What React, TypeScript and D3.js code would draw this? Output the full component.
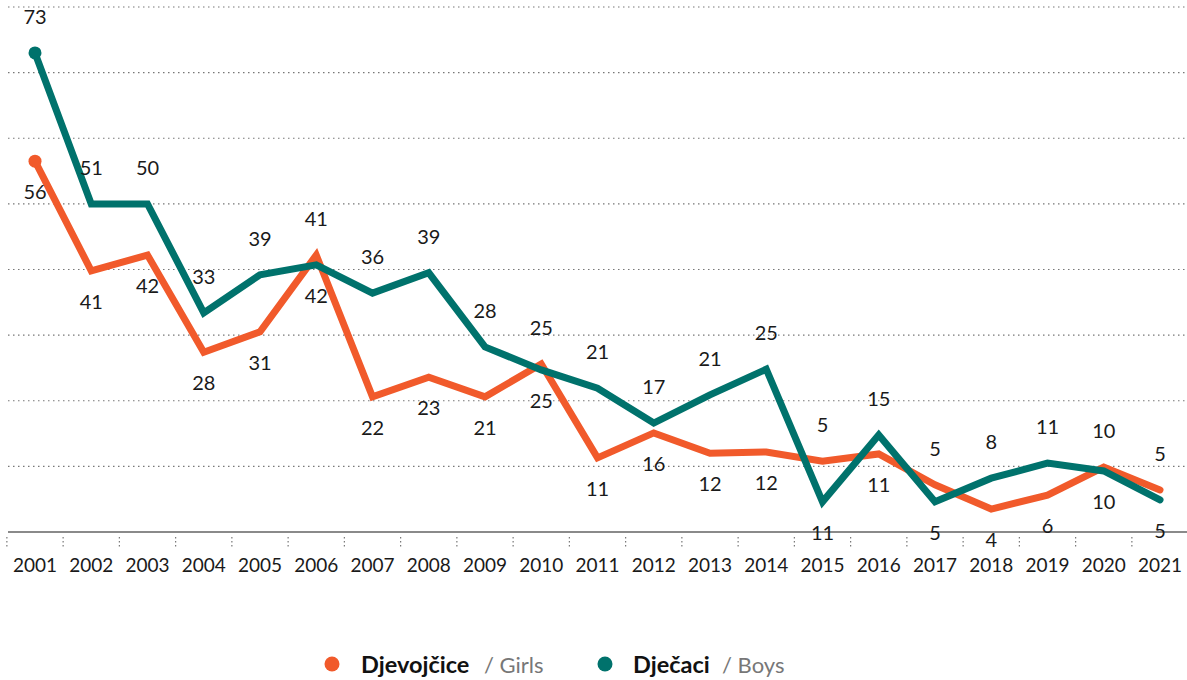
import * as d3 from "d3";
import { useEffect, useRef } from "react";

const years = ["2001","2002","2003","2004","2005","2006","2007","2008","2009","2010","2011","2012","2013","2014","2015","2016","2017","2018","2019","2020","2021"];

// plotted values
const boysValues = [73, 50, 50, 33.4, 39.2, 40.7, 36.4, 39.5, 28.2, 24.7, 21.9, 16.6, 20.9, 24.8, 4.6, 14.8, 4.6, 8.2, 10.5, 9.3, 4.9];
const girlsValues = [56.5, 39.8, 42.2, 27.4, 30.5, 42.2, 20.6, 23.6, 20.6, 25.6, 11.3, 15.1, 12.0, 12.2, 10.8, 11.9, 7.2, 3.5, 5.6, 9.9, 6.4];

// printed labels
const boysLabels = [73, 51, 50, 33, 39, 41, 36, 39, 28, 25, 21, 17, 21, 25, 5, 15, 5, 8, 11, 10, 5];
const girlsLabels = [56, 41, 42, 28, 31, 42, 22, 23, 21, 25, 11, 16, 12, 12, 11, 11, 5, 4, 6, 10, 5];

const gridValues = [10, 20, 30, 40, 50, 60, 70, 80];

const GIRLS = "#f15a2b";
const BOYS = "#00726c";

const App = () => {
    const ref = useRef<SVGSVGElement>(null);

    useEffect(() => {
        draw();
    }, []);

    const draw = () => {
        const width = 1187;
        const svg = d3.select(ref.current);
        svg.selectAll("*").remove();

        const x = d3.scalePoint().domain(years).range([35, 1160]);
        const y = d3.scaleLinear().domain([0, 80]).range([532, 7]);
        const step = x.step();

        // dotted gridlines
        svg.append("g")
            .selectAll("line")
            .data(gridValues)
            .enter()
            .append("line")
            .attr("x1", 8)
            .attr("x2", width)
            .attr("y1", d => y(d))
            .attr("y2", d => y(d))
            .attr("stroke", "#777")
            .attr("stroke-width", 1.2)
            .attr("stroke-dasharray", "1.5,3.5");

        // axis line
        svg.append("line")
            .attr("x1", 8).attr("x2", width)
            .attr("y1", y(0)).attr("y2", y(0))
            .attr("stroke", "#8a8a8a")
            .attr("stroke-width", 2);

        // dotted tick marks between categories
        const tickXs = [x(years[0])! - step / 2, ...years.map(d => x(d)! + step / 2)];
        svg.append("g")
            .selectAll("line")
            .data(tickXs)
            .enter()
            .append("line")
            .attr("x1", d => d).attr("x2", d => d)
            .attr("y1", y(0) + 5).attr("y2", y(0) + 16)
            .attr("stroke", "#777")
            .attr("stroke-width", 1.2)
            .attr("stroke-dasharray", "1.5,2.5");

        // year labels
        svg.append("g")
            .selectAll("text")
            .data(years)
            .enter()
            .append("text")
            .attr("x", d => x(d)!)
            .attr("y", 572)
            .attr("text-anchor", "middle")
            .attr("font-family", "Lato, sans-serif")
            .attr("font-size", "19px")
            .attr("fill", "#1a1a1a")
            .text(d => d);

        const line = d3.line<number>()
            .x((d, i) => x(years[i])!)
            .y(d => y(d));

        const series = [
            { values: girlsValues, color: GIRLS },
            { values: boysValues, color: BOYS },
        ];

        series.forEach(s => {
            svg.append("path")
                .datum(s.values)
                .attr("d", line)
                .attr("fill", "none")
                .attr("stroke", s.color)
                .attr("stroke-width", 7)
                .attr("stroke-linejoin", "miter")
                .attr("stroke-linecap", "round");
            svg.append("circle")
                .attr("cx", x(years[0])!)
                .attr("cy", y(s.values[0]))
                .attr("r", 6.5)
                .attr("fill", s.color);
        });

        // value labels: boys above the higher point, girls below the lower point
        const labels = svg.append("g")
            .attr("font-family", "Lato, sans-serif")
            .attr("font-size", "20px")
            .attr("fill", "#1a1a1a")
            .attr("text-anchor", "middle");

        labels.selectAll("text.top")
            .data(years)
            .enter()
            .append("text")
            .attr("class", "top")
            .attr("x", d => x(d)!)
            .attr("y", (d, i) => y(Math.max(boysValues[i], girlsValues[i])) - 36 + 7)
            .text((d, i) => boysLabels[i]);

        labels.selectAll("text.bottom")
            .data(years)
            .enter()
            .append("text")
            .attr("class", "bottom")
            .attr("x", d => x(d)!)
            .attr("y", (d, i) => y(Math.min(boysValues[i], girlsValues[i])) + 31 + 7)
            .text((d, i) => girlsLabels[i]);

        // legend
        const legend = svg.append("g")
            .attr("font-family", "Lato, sans-serif");

        legend.append("circle").attr("cx", 332).attr("cy", 664).attr("r", 7.5).attr("fill", GIRLS);
        legend.append("text").attr("x", 361).attr("y", 673)
            .attr("font-size", "23.5px")
            .attr("font-weight", "bold").attr("fill", "#111").text("Djevojčice");
        legend.append("text").attr("x", 484).attr("y", 673)
            .attr("font-size", "22px")
            .attr("fill", "#777").text("/ Girls");

        legend.append("circle").attr("cx", 605).attr("cy", 664).attr("r", 7.5).attr("fill", BOYS);
        legend.append("text").attr("x", 633).attr("y", 673)
            .attr("font-size", "23.5px")
            .attr("font-weight", "bold").attr("fill", "#111").text("Dječaci");
        legend.append("text").attr("x", 722).attr("y", 673)
            .attr("font-size", "22px")
            .attr("fill", "#777").text("/ Boys");
    };

    return (
        <svg
            ref={ref}
            width={1187}
            height={680}
            style={{ position: "absolute", left: 0, top: 0, background: "#fff" }}
        />
    );
};

export default App;
